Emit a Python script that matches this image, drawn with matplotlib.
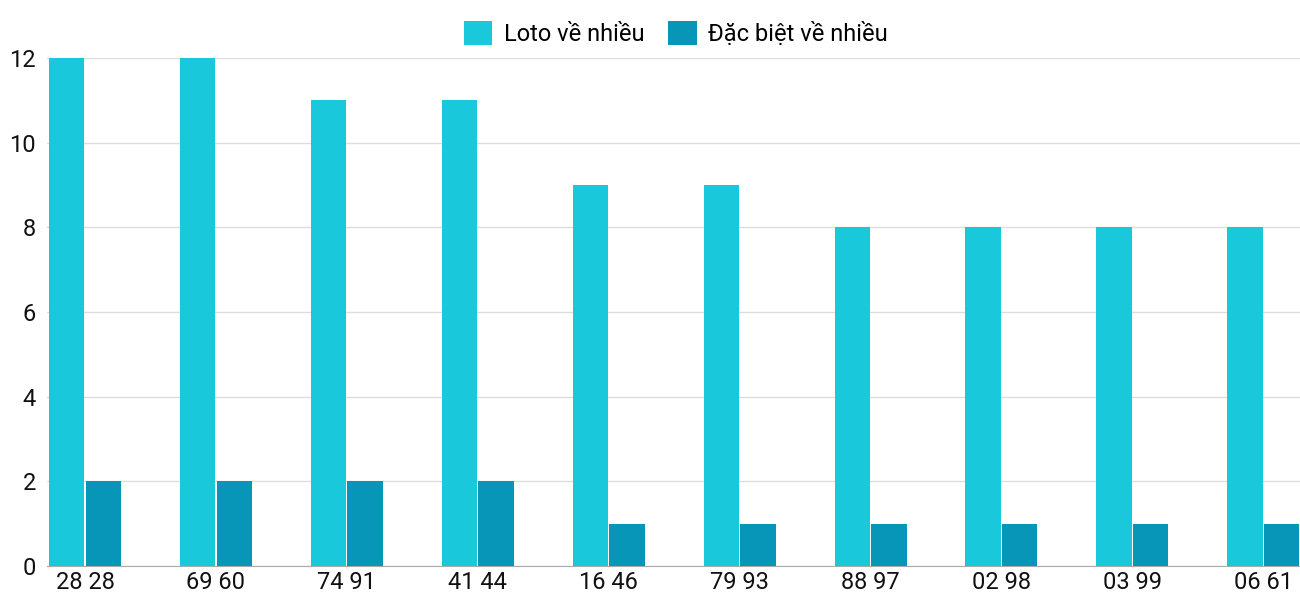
import numpy as np
import matplotlib
matplotlib.use("Agg")
import matplotlib.pyplot as plt

plt.rcParams['font.family'] = ['Roboto', 'DejaVu Sans']

categories = ["28 28", "69 60", "74 91", "41 44", "16 46", "79 93", "88 97", "02 98", "03 99", "06 61"]
loto = [12, 12, 11, 11, 9, 9, 8, 8, 8, 8]
dac_biet = [2, 2, 2, 2, 1, 1, 1, 1, 1, 1]

fig = plt.figure(figsize=(13, 6), dpi=100)
ax = fig.add_axes([47 / 1300, 1 - 566 / 600, 1 - 47 / 1300, (566 - 58) / 600])

x = np.arange(len(categories))
w = 0.27
ax.bar(x - w / 2 - 0.005, loto, w, color="#1ac8db", label="Loto về nhiều", zorder=3)
ax.bar(x + w / 2 + 0.005, dac_biet, w, color="#0795b8", label="Đặc biệt về nhiều", zorder=3)

ax.set_xlim(-0.29, 9.28)
ax.set_ylim(0, 12)
ax.set_yticks(range(0, 13, 2))
ax.set_xticks(x)
ax.set_xticklabels(categories)
ax.tick_params(axis="both", length=0, labelsize=17, colors="#111111")
ax.tick_params(axis="y", pad=8)
ax.grid(axis="y", color="#dddddd", linewidth=1, zorder=0)
for s in ["top", "right", "left"]:
    ax.spines[s].set_visible(False)
ax.spines["bottom"].set_color("#aaaaaa")

fig.legend(loc="upper center", bbox_to_anchor=(0.52, 1.0), ncol=2, frameon=False,
           fontsize=17, handlelength=1.2, handleheight=1.2, columnspacing=1.0, handletextpad=0.5)

fig.savefig("out.png", dpi=100)
